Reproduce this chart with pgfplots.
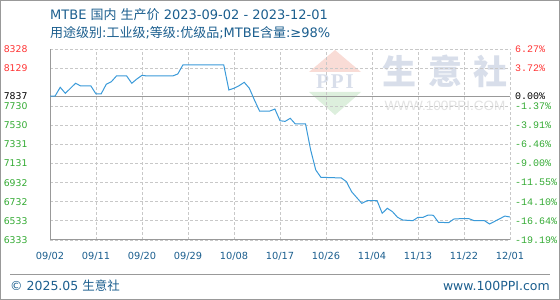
\documentclass[border=0pt]{standalone}
\usepackage{pgfplots}
\pgfplotsset{compat=1.18}
\usepackage{fontspec}
\setmainfont{DejaVu Sans}
\newfontfamily\cjk{Noto Sans CJK SC}
\newfontfamily\monof{Liberation Mono}
\newfontfamily\lsans{Liberation Sans}
\newfontfamily\lserif{Liberation Serif}
\definecolor{ttl}{HTML}{1B5E8E}
\definecolor{redl}{HTML}{FF3333}
\definecolor{grnl}{HTML}{33AA33}
\definecolor{linec}{HTML}{3A9AD9}
\definecolor{gridc}{HTML}{C8C8C8}
\definecolor{framec}{HTML}{999999}
\definecolor{wm}{HTML}{D8DEEA}
\definecolor{wm2}{HTML}{E2E2E2}
\definecolor{wmred}{HTML}{F9DCD6}
\definecolor{wmgrn}{HTML}{DDEFDD}
\begin{document}
\begin{tikzpicture}[x=1pt,y=1pt]
\useasboundingbox (0,0) rectangle (560,300);
\draw[framec, line width=1pt] (0.5,0.5) rectangle (559.5,299.5);
% titles
\node[anchor=west, text=ttl, inner sep=0, font=\fontsize{13}{13}\selectfont] at (50,285) {MTBE {\cjk 国内} {\cjk 生产价} 2023-09-02 - 2023-12-01};
\node[anchor=west, text=ttl, inner sep=0, font=\fontsize{13}{13}\selectfont] at (50,267) {{\cjk 用途级别}:{\cjk 工业级};{\cjk 等级}:{\cjk 优级品};MTBE{\cjk 含量}:≥98\%};
% watermark
\fill[wmred] (335,250) -- (361,228) -- (309,228) -- cycle;
\fill[wmgrn] (309,208) -- (361,208) -- (335,185) -- cycle;
\node[text=wm, font=\lserif\bfseries\fontsize{21}{21}\selectfont, inner sep=0] at (335,218) {P\hspace{2pt}P\hspace{2pt}I};
\node[text=wm, font=\cjk\bfseries\fontsize{34}{34}\selectfont, inner sep=0] at (399,229) {生};
\node[text=wm, font=\cjk\bfseries\fontsize{34}{34}\selectfont, inner sep=0] at (445,229) {意};
\node[text=wm, font=\cjk\bfseries\fontsize{34}{34}\selectfont, inner sep=0] at (490,229) {社};
\node[text=wm2, font=\lsans\fontsize{13.5}{13.5}\selectfont, inner sep=0] at (445,194) {WWW.100PPI.COM};
% footer
\draw[framec, line width=1pt] (10,25) -- (550,25);
\node[anchor=west, text=ttl, inner sep=0, font=\fontsize{12.5}{12.5}\selectfont] at (10,14) {© 2025.05 {\cjk 生意社}};
\node[anchor=east, text=ttl, inner sep=0, font=\fontsize{12.5}{12.5}\selectfont] at (550,14) {www.100PPI.com};

\begin{axis}[
  at={(50pt,60pt)}, anchor=south west, scale only axis,
  width=460pt, height=191pt,
  xmin=0, xmax=90, ymin=6333, ymax=8328,
  axis x line*=bottom, axis y line*=left,
  axis line style={framec, line width=1pt, -},
  major tick length=0pt,
  grid=major,
  major grid style={gridc, line width=0.8pt, dash pattern=on 3pt off 2pt},
  xtick={0,9,18,27,36,45,54,63,72,81,90},
  xticklabels={09/02,09/11,09/20,09/29,10/08,10/17,10/26,11/04,11/13,11/22,12/01},
  xticklabel style={font=\fontsize{9.8}{9.8}\selectfont, text=ttl, yshift=-9pt},
  ytick={6333,6533,6732,6932,7131,7331,7530,7730,7837,8129,8328},
  yticklabels={\textcolor{grnl}{6333},\textcolor{grnl}{6533},\textcolor{grnl}{6732},\textcolor{grnl}{6932},\textcolor{grnl}{7131},\textcolor{grnl}{7331},\textcolor{grnl}{7530},\textcolor{grnl}{7730},\textcolor{black}{7837},\textcolor{redl}{8129},\textcolor{redl}{8328}},
  yticklabel style={font=\fontsize{9.3}{9.3}\selectfont, anchor=east, xshift=-19pt},
]
\addplot[framec, line width=1pt] coordinates {(0,7837) (90,7837)};
\addplot[linec, line width=1pt] coordinates {
(0,7837) (1,7837) (2,7928) (3,7865) (5,7970) (6,7942) (8,7942) (9,7858) (10,7858)
(11,7959) (12,7986) (13,8046) (15,8046) (16,7970) (17,8015) (18,8053) (19,8046)
(24,8046) (25,8067) (26,8161) (34,8161) (35,7900) (36,7918) (37,7945) (38,7980)
(39,7918) (40,7795) (41,7680) (43,7680) (44,7701) (45,7579) (46,7572) (47,7604)
(48,7545) (50,7545) (51,7273) (52,7064) (53,6988) (57,6981) (58,6942) (59,6838)
(61,6716) (62,6743) (64,6743) (65,6612) (66,6664) (67,6629) (68,6570) (69,6542)
(71,6535) (72,6570) (73,6570) (74,6594) (75,6591) (76,6518) (78,6514) (79,6552)
(80,6555) (82,6555) (83,6535) (85,6535) (86,6500) (89,6583) (90,6573)
};
\end{axis}
\begin{axis}[
  at={(50pt,60pt)}, anchor=south west, scale only axis,
  width=460pt, height=191pt,
  xmin=0, xmax=90, ymin=6333, ymax=8328,
  axis line style={draw=none},
  major tick length=0pt,
  xtick=\empty,
  yticklabel pos=right,
  ytick={6333,6533,6732,6932,7131,7331,7530,7730,7837,8129,8328},
  yticklabels={\textcolor{grnl}{-19.19\%},\textcolor{grnl}{-16.64\%},\textcolor{grnl}{-14.10\%},\textcolor{grnl}{-11.55\%},\textcolor{grnl}{-9.00\%},\textcolor{grnl}{-6.46\%},\textcolor{grnl}{-3.91\%},\textcolor{grnl}{-1.37\%},\textcolor{black}{0.00\%},\textcolor{redl}{3.72\%},\textcolor{redl}{6.27\%}},
  yticklabel style={font=\monof\fontsize{10}{10}\selectfont, anchor=west, xshift=1.5pt},
]
\end{axis}
\end{tikzpicture}
\end{document}
